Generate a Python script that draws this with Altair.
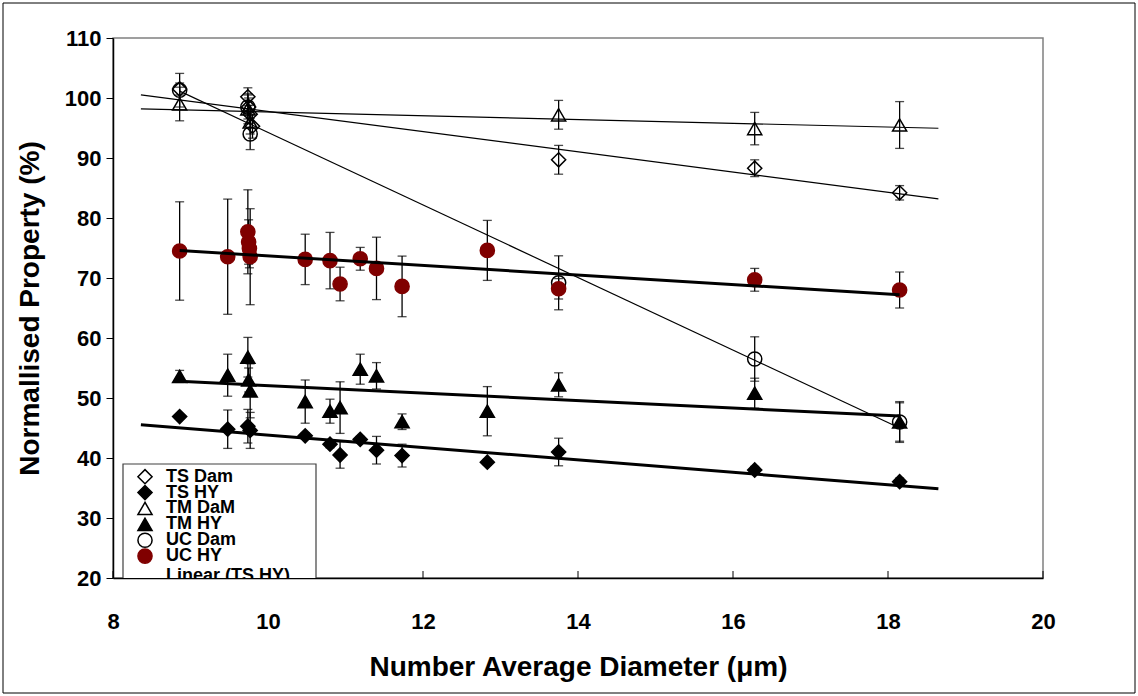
import altair as alt
import pandas as pd

FONT = "Liberation Sans"

# ---- measurements: diameter (µm), normalised property (%), ± error ----
ts_dam_x = [8.86, 9.74, 9.75, 9.77, 9.80, 13.75, 16.28, 18.15]
ts_dam_y = [101.5, 100.2, 98.5, 97.3, 95.3, 89.7, 88.3, 84.2]
ts_dam_err = [1.0, 1.5, 1.5, 1.5, 2.0, 2.4, 1.4, 1.2]

ts_hy_x = [8.86, 9.48, 9.74, 9.77, 10.48, 10.80, 10.93, 11.19, 11.40, 11.73, 12.83, 13.75, 16.28, 18.15]
ts_hy_y = [46.9, 44.8, 45.3, 44.6, 43.7, 42.3, 40.5, 43.1, 41.3, 40.4, 39.3, 41.0, 38.0, 36.05]
ts_hy_err = [0.4, 3.2, 2.8, 3.0, 0.5, 0.6, 2.2, 0.5, 2.3, 1.9, 0.5, 2.3, 0.6, 0.6]

tm_dam_x = [8.86, 9.74, 9.77, 13.75, 16.28, 18.15]
tm_dam_y = [99.0, 98.2, 96.0, 97.2, 94.9, 95.5]
tm_dam_err = [2.8, 2.5, 2.0, 2.4, 2.7, 3.9]

tm_hy_x = [8.86, 9.48, 9.74, 9.75, 9.77, 10.48, 10.80, 10.93, 11.19, 11.40, 11.73, 12.83, 13.75, 16.28, 18.15]
tm_hy_y = [53.6, 53.8, 56.8, 53.0, 51.2, 49.4, 47.8, 48.4, 54.8, 53.7, 46.05, 47.8, 52.2, 50.8, 46.0]
tm_hy_err = [1.0, 3.5, 3.3, 2.0, 4.5, 3.6, 2.0, 4.3, 2.5, 2.2, 1.3, 4.1, 2.0, 2.5, 3.2]

uc_dam_x = [8.86, 9.74, 9.77, 13.75, 16.28, 18.15]
uc_dam_y = [101.3, 98.5, 94.0, 69.2, 56.5, 46.0]
uc_dam_err = [2.8, 2.0, 2.6, 4.5, 3.7, 3.4]

uc_hy_x = [8.86, 9.48, 9.74, 9.75, 9.76, 9.77, 10.48, 10.80, 10.93, 11.19, 11.40, 11.73, 12.83, 13.75, 16.28, 18.15]
uc_hy_y = [74.5, 73.55, 77.7, 76.0, 74.9, 73.55, 73.1, 72.9, 69.0, 73.2, 71.6, 68.6, 74.6, 68.2, 69.7, 68.0]
uc_hy_err = [8.2, 9.6, 7.0, 3.7, 3.2, 8.0, 4.2, 4.7, 2.8, 1.9, 5.2, 5.05, 5.0, 1.7, 1.9, 3.0]

series_names = ["TS Dam", "TS HY", "TM DaM", "TM HY", "UC Dam", "UC HY"]
trend_label = "Linear (TS HY)"

x_ticks = [8, 10, 12, 14, 16, 18, 20]
y_ticks = [20, 30, 40, 50, 60, 70, 80, 90, 100, 110]

# linear trends extended half a unit beyond the data on both sides
TREND_START, TREND_END = 8.36, 18.65

columns = {
    "TS Dam": (ts_dam_x, ts_dam_y, ts_dam_err),
    "TS HY": (ts_hy_x, ts_hy_y, ts_hy_err),
    "TM DaM": (tm_dam_x, tm_dam_y, tm_dam_err),
    "TM HY": (tm_hy_x, tm_hy_y, tm_hy_err),
    "UC Dam": (uc_dam_x, uc_dam_y, uc_dam_err),
    "UC HY": (uc_hy_x, uc_hy_y, uc_hy_err),
}
rows = []
for name, (xs, ys, es) in columns.items():
    for xv, yv, ev in zip(xs, ys, es):
        rows.append({"series": name, "x": xv, "y": yv, "err": ev})
df = pd.DataFrame(rows)

W, H = 930, 540

x_scale = alt.Scale(domain=[8, 20], nice=False, zero=False)
y_scale = alt.Scale(domain=[20, 110], nice=False, zero=False)

x_axis = alt.Axis(
    values=x_ticks, format="d", title="Number Average Diameter (μm)",
    grid=False, tickSize=0, labelPadding=33, titlePadding=21,
    labelFont=FONT, labelFontSize=22, labelFontWeight="bold", labelColor="black",
    titleFont=FONT, titleFontSize=28, titleFontWeight="bold", titleColor="black",
    domainColor="black", domainWidth=1.5, labelFlush=False,
)
y_axis = alt.Axis(
    values=y_ticks, format="d", title="Normallised Property (%)",
    grid=False, tickSize=7, tickColor="black", tickWidth=1,
    labelPadding=5, titlePadding=20,
    labelFont=FONT, labelFontSize=22, labelFontWeight="bold", labelColor="black",
    titleFont=FONT, titleFontSize=28, titleFontWeight="bold", titleColor="black",
    domainColor="black", domainWidth=1.5, labelFlush=False,
)


def X(field):
    return alt.X(f"{field}:Q", scale=x_scale, axis=x_axis)


def Y(field):
    return alt.Y(f"{field}:Q", scale=y_scale, axis=y_axis)


shape = alt.Shape("series:N", legend=None, scale=alt.Scale(
    domain=series_names,
    range=["diamond", "diamond", "triangle-up", "triangle-up", "circle", "circle"]))
fill = alt.Fill("series:N", legend=None, scale=alt.Scale(
    domain=series_names,
    range=["transparent", "black", "transparent", "black", "transparent", "#800000"]))
stroke = alt.Stroke("series:N", legend=None, scale=alt.Scale(
    domain=series_names,
    range=["black", "black", "black", "black", "black", "#800000"]))
size = alt.Size("series:N", legend=None, scale=alt.Scale(
    domain=series_names, range=[200, 200, 190, 190, 170, 170]))

base = alt.Chart(df)

# inward tick marks on the bottom axis
ticks = alt.Chart(pd.DataFrame({"t": x_ticks})).mark_rule(
    color="black", strokeWidth=1).encode(
    x=X("t"), y=alt.value(H), y2=alt.value(H - 7))

bars = base.transform_calculate(
    lo="datum.y - datum.err", hi="datum.y + datum.err")
err_rule = bars.mark_rule(color="black", strokeWidth=1.3).encode(
    x=X("x"), y=Y("lo"), y2="hi:Q")
cap_lo = bars.mark_tick(color="black", orient="horizontal", size=9,
                        thickness=1.3).encode(x=X("x"), y=Y("lo"))
cap_hi = bars.mark_tick(color="black", orient="horizontal", size=9,
                        thickness=1.3).encode(x=X("x"), y=Y("hi"))

points = base.mark_point(filled=True, opacity=1, strokeWidth=1.5).encode(
    x=X("x"), y=Y("y"), shape=shape, fill=fill, stroke=stroke, size=size)


def trend(name, width, extended):
    src = base.transform_filter(alt.datum.series == name)
    if extended:
        src = src.transform_regression("x", "y", extent=[TREND_START, TREND_END])
    else:
        src = src.transform_regression("x", "y")
    return src.mark_line(color="black", strokeWidth=width).encode(
        x=X("x"), y=Y("y"))


trends = [
    trend("TS Dam", 1.2, True),
    trend("TM DaM", 1.2, True),
    trend("UC Dam", 1.2, False),
    trend("TS HY", 3, True),
    trend("TM HY", 3, False),
    trend("UC HY", 3, False),
]

# outer frame around the whole figure
frame = alt.Chart(pd.DataFrame({"k": [0]})).mark_rect(
    fillOpacity=0, stroke="black", strokeWidth=1, clip=False).encode(
    x=alt.value(-110), x2=alt.value(1022), y=alt.value(-35), y2=alt.value(655))

main = alt.layer(ticks, err_rule, cap_lo, cap_hi, points, *trends, frame)

# key box in the lower-left corner of the plot (its bottom runs past the frame)
leg_df = pd.DataFrame({"series": series_names, "row": list(range(len(series_names)))})
leg_y = alt.Y("row:Q", axis=None,
              scale=alt.Scale(domain=[0, 6], range=[438.7, 534]))
leg_box = alt.Chart(pd.DataFrame({"k": [0]})).mark_rect(
    fill="white", stroke="#404040", strokeWidth=1.2, clip=True).encode(
    x=alt.value(10), x2=alt.value(203), y=alt.value(426), y2=alt.value(570))
leg_sym = alt.Chart(leg_df).mark_point(filled=True, opacity=1, strokeWidth=1.5).encode(
    x=alt.value(32), y=leg_y, shape=shape, fill=fill, stroke=stroke, size=size)
leg_txt = alt.Chart(leg_df).mark_text(
    align="left", baseline="middle", font=FONT, fontSize=18, fontWeight="bold",
    color="black").encode(x=alt.value(53), y=leg_y, text="series:N")
leg_line_txt = alt.Chart(pd.DataFrame({"label": [trend_label], "row": [6]})).mark_text(
    align="left", baseline="middle", font=FONT, fontSize=18, fontWeight="bold",
    color="black", clip=True, dy=4).encode(x=alt.value(53), y=leg_y, text="label:N")

legend = alt.layer(leg_box, leg_sym, leg_txt, leg_line_txt)

chart = alt.layer(main, legend).resolve_scale(y="independent").properties(
    width=W, height=H, autosize="none",
    padding={"left": 113, "top": 38, "right": 95, "bottom": 118},
    background="white",
).configure_view(stroke="#808080", strokeWidth=1.5)

chart.save("out.html", embed_options={"renderer": "svg", "actions": False})
